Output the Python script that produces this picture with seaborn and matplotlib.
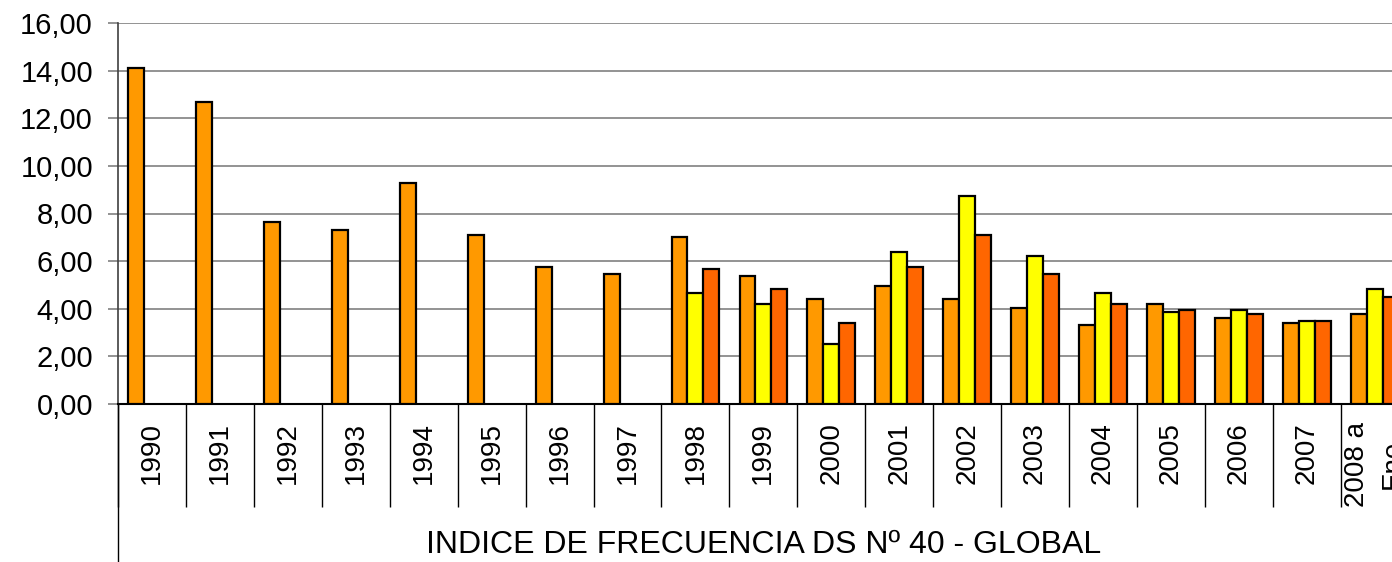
import numpy as np
import pandas as pd
import matplotlib
matplotlib.use('Agg')
import matplotlib.pyplot as plt
from matplotlib.ticker import FuncFormatter
import seaborn as sns

# Categories and series values
years = ['1990', '1991', '1992', '1993', '1994', '1995', '1996', '1997', '1998', '1999',
         '2000', '2001', '2002', '2003', '2004', '2005', '2006', '2007', '2008 a\nEne']
serie_1 = [14.10, 12.67, 7.64, 7.29, 9.27, 7.10, 5.75, 5.48, 7.01, 5.38,
           4.42, 4.94, 4.42, 4.04, 3.32, 4.22, 3.60, 3.42, 3.79]
serie_2 = [None, None, None, None, None, None, None, None, 4.66, 4.21,
           2.52, 6.39, 8.74, 6.20, 4.67, 3.86, 3.95, 3.50, 4.85]
serie_3 = [None, None, None, None, None, None, None, None, 5.67, 4.85,
           3.41, 5.75, 7.10, 5.48, 4.22, 3.95, 3.79, 3.50, 4.49]
series_names = ['Serie 1', 'Serie 2', 'Serie 3']
colors = ['#FF9900', '#FFFF00', '#FF6600']
y_ticks = [0, 2, 4, 6, 8, 10, 12, 14, 16]
group_title = 'INDICE DE FRECUENCIA DS Nº 40 - GLOBAL'

df = pd.DataFrame({'Year': years * 3,
                   'Serie': np.repeat(series_names, len(years)),
                   'Valor': serie_1 + serie_2 + serie_3})
df['Valor'] = pd.to_numeric(df['Valor'])

sns.set_style('white')
plt.rcParams['font.family'] = ['Liberation Sans', 'DejaVu Sans']
plt.rcParams['text.color'] = 'black'
plt.rcParams['xtick.color'] = 'black'
plt.rcParams['ytick.color'] = 'black'

fig = plt.figure(figsize=(13.92, 5.62), dpi=100)
# plot area runs past the right edge, like the cropped original
ax = fig.add_axes([118 / 1392, 158 / 562, 19 * 67.93 / 1392, 381 / 562])

sns.barplot(data=df, x='Year', y='Valor', hue='Serie', hue_order=series_names,
            palette=colors, saturation=1, width=0.7, errorbar=None, legend=False,
            edgecolor='black', linewidth=1.6, ax=ax, zorder=3)

ax.set_ylim(0, 16)
ax.set_xlim(-0.5, len(years) - 0.5)
ax.set_yticks(y_ticks)
ax.yaxis.set_major_formatter(FuncFormatter(lambda v, p: f'{v:.2f}'.replace('.', ',')))
ax.yaxis.grid(True, color='#808080', linewidth=1.2, zorder=0)
ax.set_axisbelow(True)

for side in ['top', 'right']:
    ax.spines[side].set_visible(False)
ax.spines['bottom'].set_color('black')
ax.spines['bottom'].set_linewidth(1.5)
ax.spines['left'].set_color('#404040')
ax.spines['left'].set_linewidth(1.2)

ax.tick_params(axis='y', left=True, length=7, width=1.2, color='#808080',
               labelcolor='black', pad=11, labelsize=21)
ax.tick_params(axis='x', which='major', length=0, pad=13, labelsize=20,
               labelcolor='black')
for lab in ax.get_xticklabels():
    lab.set_rotation(90)
    lab.set_multialignment('center')
    lab.set_linespacing(1.5)

# category separators of the Excel style axis
ax.set_xticks(np.arange(len(years) + 1) - 0.5, minor=True)
ax.tick_params(axis='x', which='minor', bottom=True, length=74, width=1.0,
               color='black', direction='out')

# outer category band: left line and group title
ax.plot([0, 0], [0, -0.42], transform=ax.transAxes, color='black',
        linewidth=1.0, clip_on=False)
ax.text(0.5, -0.37, group_title, transform=ax.transAxes, ha='center',
        va='center', fontsize=23, color='black')

ax.set_xlabel('')
ax.set_ylabel('')

plt.savefig('out.png', dpi=100)
plt.close()
